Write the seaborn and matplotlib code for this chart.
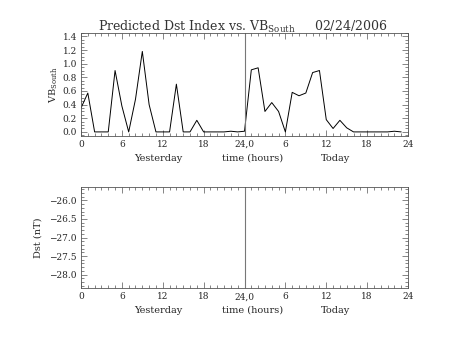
import numpy as np
import pandas as pd
import matplotlib
matplotlib.use("Agg")
import matplotlib.pyplot as plt
from matplotlib.ticker import MultipleLocator, FixedLocator
import seaborn as sns

hours = list(range(48))
vb_south = [0.35, 0.57, 0.0, 0.0, 0.0, 0.90, 0.38, 0.0, 0.48, 1.18,
            0.40, 0.0, 0.0, 0.0, 0.70, 0.0, 0.0, 0.17, 0.0, 0.0,
            0.0, 0.0, 0.01, 0.0, 0.01, 0.91, 0.94, 0.30, 0.43, 0.30,
            0.0, 0.58, 0.53, 0.57, 0.87, 0.90, 0.18, 0.05, 0.17, 0.06,
            0.0, 0.0, 0.0, 0.0, 0.0, 0.0, 0.01, 0.0]
xtick_pos = [0, 6, 12, 18, 24, 30, 36, 42, 48]
xtick_labels = ["0", "6", "12", "18", "24,0", "6", "12", "18", "24"]
top_yticks = [0.0, 0.2, 0.4, 0.6, 0.8, 1.0, 1.2, 1.4]
bot_yticks = [-26.0, -26.5, -27.0, -27.5, -28.0]

sns.set_theme(style="ticks")
plt.rcParams["font.family"] = ["DejaVu Serif"]
plt.rcParams["mathtext.fontset"] = "dejavuserif"

df = pd.DataFrame({"hour": hours, "vb": vb_south})

fig = plt.figure(figsize=(4.53, 3.40), dpi=100)
ax1 = fig.add_axes([0.1788, 0.600, 0.7219, 0.3029])
ax2 = fig.add_axes([0.1788, 0.152, 0.7219, 0.2989])

sns.lineplot(data=df, x="hour", y="vb", ax=ax1, color="black", linewidth=0.7)

fs = 6.5
edge = "#555555"
for ax in (ax1, ax2):
    ax.set_xlim(0, 48)
    ax.axvline(24, color="#777777", linewidth=0.8)
    ax.xaxis.set_major_locator(FixedLocator(xtick_pos))
    ax.set_xticklabels(xtick_labels, fontsize=fs)
    ax.xaxis.set_minor_locator(MultipleLocator(1))
    ax.tick_params(which="both", direction="in", top=True, right=True,
                   color=edge, width=0.5)
    ax.tick_params(which="major", length=4, pad=3)
    ax.tick_params(which="minor", length=2)
    ax.tick_params(axis="y", labelsize=fs)
    for s in ax.spines.values():
        s.set_color(edge)
        s.set_linewidth(0.6)
    ax.set_xlabel("")
    ax.set_ylabel("")
    ax.text(0.236, -0.215, "Yesterday", transform=ax.transAxes, ha="center",
            va="center", fontsize=7)
    ax.text(0.525, -0.215, "time (hours)", transform=ax.transAxes, ha="center",
            va="center", fontsize=7)
    ax.text(0.777, -0.215, "Today", transform=ax.transAxes, ha="center",
            va="center", fontsize=7)

ax1.set_ylim(-0.06, 1.45)
ax1.yaxis.set_major_locator(FixedLocator(top_yticks))
ax1.set_yticklabels([f"{v:.1f}" for v in top_yticks])
ax1.yaxis.set_minor_locator(MultipleLocator(0.05))
ax1.set_ylabel(r"VB$_{\mathrm{South}}$", fontsize=7, labelpad=2)

ax2.set_ylim(-28.37, -25.63)
ax2.yaxis.set_major_locator(FixedLocator(bot_yticks))
ax2.set_yticklabels([f"{v:.1f}".replace("-", "\u2212") for v in bot_yticks])
ax2.yaxis.set_minor_locator(MultipleLocator(0.1))
ax2.set_ylabel("Dst (nT)", fontsize=7, labelpad=5)

fig.text(0.535, 0.922, r"Predicted Dst Index vs. VB$_{\mathrm{South}}$     02/24/2006",
         ha="center", va="center", fontsize=9, color="#333333")

fig.savefig("out.png", dpi=100)
